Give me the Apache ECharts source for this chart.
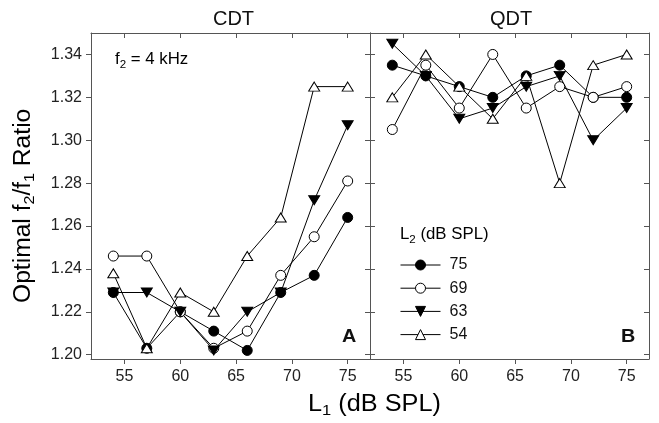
<!DOCTYPE html>
<html>
<head>
<meta charset="utf-8">
<script src="https://cdn.jsdelivr.net/npm/echarts@6/dist/echarts.min.js"></script>
<style>
  html, body { margin: 0; padding: 0; background: #fff; }
  #chart { width: 659px; height: 423px; }
</style>
</head>
<body>
<div id="chart"></div>
<script>
// Primary tone level L1 (dB SPL) at which each ratio was measured
const l1Levels = [54, 57, 60, 63, 66, 69, 72, 75];

// Tick values shared by both panels
const xTicks = [55, 60, 65, 70, 75];
const yTicks = [1.20, 1.22, 1.24, 1.26, 1.28, 1.30, 1.32, 1.34];

// Legend names: L2 level (dB SPL)
const l2Names = ['75', '69', '63', '54'];

// CDT panel: optimal f2/f1 ratio per L2 level
const cdt75 = [1.229, 1.203, 1.220, 1.211, 1.202, 1.229, 1.237, 1.264];
const cdt69 = [1.246, 1.246, 1.220, 1.203, 1.211, 1.237, 1.255, 1.281];
const cdt63 = [1.229, 1.229, 1.220, 1.202, 1.220, 1.229, 1.272, 1.307];
const cdt54 = [1.238, 1.203, 1.229, 1.220, 1.246, 1.264, 1.325, 1.325];

// QDT panel: optimal f2/f1 ratio per L2 level
const qdt75 = [1.335, 1.330, 1.325, 1.320, 1.330, 1.335, 1.320, 1.320];
const qdt69 = [1.305, 1.335, 1.315, 1.340, 1.315, 1.325, 1.320, 1.325];
const qdt63 = [1.345, 1.330, 1.310, 1.315, 1.325, 1.330, 1.300, 1.315];
const qdt54 = [1.320, 1.340, 1.325, 1.310, 1.330, 1.280, 1.335, 1.340];

const FONT = '"Liberation Sans", Arial, Helvetica, sans-serif';
const FRAME = '#555';
const INK = '#000';
const TEXT = '#111';

// Marker look for each L2 level
const markers = {
  '75': { symbol: 'circle', size: 10, fill: '#000' },
  '69': { symbol: 'circle', size: 10, fill: '#fff' },
  '63': { symbol: 'path://M0,0L2,0L1,1.732Z', size: [11, 9], fill: '#000' },
  '54': { symbol: 'path://M1,0L2,1.732L0,1.732Z', size: [11, 9], fill: '#fff' }
};

const cdtSets = [cdt75, cdt69, cdt63, cdt54];
const qdtSets = [qdt75, qdt69, qdt63, qdt54];

function pairs(values) {
  return l1Levels.map((x, i) => [x, values[i]]);
}

function makeSeries(name, values, axisIdx) {
  const m = markers[name];
  return {
    name: name,
    type: 'line',
    xAxisIndex: axisIdx,
    yAxisIndex: axisIdx,
    data: pairs(values),
    symbol: m.symbol,
    symbolSize: m.size,
    showAllSymbol: true,
    lineStyle: { color: INK, width: 1 },
    itemStyle: { color: m.fill, borderColor: INK, borderWidth: 1 },
    emphasis: { disabled: true },
    animation: false
  };
}

const series = [];
l2Names.forEach((n, i) => series.push(makeSeries(n, cdtSets[i], 0)));
l2Names.forEach((n, i) => series.push(makeSeries(n, qdtSets[i], 2)));

function xAxis(gridIndex, position, withLabels) {
  return {
    type: 'value', gridIndex: gridIndex, position: position,
    min: 52, max: 77,
    axisLine: { show: true, onZero: false, lineStyle: { color: FRAME, width: 1 } },
    axisTick: { show: true, inside: !withLabels, length: 5, customValues: xTicks,
                lineStyle: { color: FRAME, width: 1 } },
    axisLabel: { show: withLabels, customValues: xTicks, margin: 10,
                 color: '#222', fontSize: 16, fontFamily: FONT },
    splitLine: { show: false }
  };
}

function yAxis(gridIndex, position, withLabels) {
  return {
    type: 'value', gridIndex: gridIndex, position: position,
    min: 1.198, max: 1.35,
    axisLine: { show: true, onZero: false, lineStyle: { color: FRAME, width: 1 } },
    axisTick: { show: true, inside: !withLabels, length: 5, customValues: yTicks,
                lineStyle: { color: FRAME, width: 1 } },
    axisLabel: { show: withLabels, customValues: yTicks, margin: 9,
                 formatter: v => v.toFixed(2),
                 color: '#222', fontSize: 16, fontFamily: FONT },
    splitLine: { show: false }
  };
}

// Rich-text styles with a lowered subscript
const bigRich = {
  a: { fontSize: 23, fontFamily: FONT, color: TEXT, lineHeight: 25, verticalAlign: 'top' },
  s: { fontSize: 15, fontFamily: FONT, color: TEXT, lineHeight: 15, padding: [13, 0, 0, 0], verticalAlign: 'bottom' }
};
const smallRich = {
  a: { fontSize: 16, fontFamily: FONT, color: TEXT, lineHeight: 18, verticalAlign: 'top' },
  s: { fontSize: 11, fontFamily: FONT, color: TEXT, lineHeight: 11, padding: [9, 0, 0, 0], verticalAlign: 'bottom' }
};

const option = {
  backgroundColor: '#fff',
  animation: false,
  grid: [
    { left: 91, top: 33, width: 279, height: 326, show: false },
    { left: 370, top: 33, width: 279, height: 326, show: false }
  ],
  xAxis: [
    xAxis(0, 'bottom', true), xAxis(0, 'top', false),
    xAxis(1, 'bottom', true), xAxis(1, 'top', false)
  ],
  yAxis: [
    yAxis(0, 'left', true), yAxis(0, 'right', false),
    yAxis(1, 'left', false), yAxis(1, 'right', false)
  ],
  legend: {
    data: l2Names,
    orient: 'vertical',
    left: 400, top: 257,
    padding: 0,
    itemWidth: 40, itemHeight: 12.5, itemGap: 7.2,
    selectedMode: false,
    lineStyle: { width: 1, color: INK },
    itemStyle: { borderWidth: 1, borderColor: INK },
    textStyle: { fontSize: 16, fontFamily: FONT, color: TEXT, padding: [0, 0, 0, 4] }
  },
  graphic: [
    { type: 'text', x: 233.5, y: 19, style: { text: 'CDT', fontSize: 20, fontFamily: FONT, fill: TEXT, textAlign: 'center', textVerticalAlign: 'middle' } },
    { type: 'text', x: 511, y: 19, style: { text: 'QDT', fontSize: 20, fontFamily: FONT, fill: TEXT, textAlign: 'center', textVerticalAlign: 'middle' } },
    { type: 'text', x: 115, y: 52, scaleX: 1.05, style: { text: '{a|f}{s|2}{a| = 4 kHz}', rich: smallRich } },
    { type: 'text', x: 400, y: 227, scaleX: 1.05, style: { text: '{a|L}{s|2}{a| (dB SPL)}', rich: smallRich } },
    { type: 'text', x: 342, y: 337.5, scaleX: 1.1, style: { text: 'A', fontSize: 18, fontWeight: 'bold', fontFamily: FONT, fill: TEXT, textVerticalAlign: 'middle' } },
    { type: 'text', x: 621, y: 337.5, scaleX: 1.1, style: { text: 'B', fontSize: 18, fontWeight: 'bold', fontFamily: FONT, fill: TEXT, textVerticalAlign: 'middle' } },
    { type: 'text', x: 12, y: 303, rotation: Math.PI / 2, scaleX: 1.07,
      style: { text: '{a|Optimal f}{s|2}{a|/f}{s|1}{a| Ratio}', rich: bigRich } },
    { type: 'text', x: 308, y: 393, scaleX: 1.1, style: { text: '{a|L}{s|1}{a| (dB SPL)}', rich: bigRich } }
  ],
  series: series
};

const chart = echarts.init(document.getElementById('chart'), null, { renderer: 'canvas' });
chart.setOption(option);
</script>
</body>
</html>
